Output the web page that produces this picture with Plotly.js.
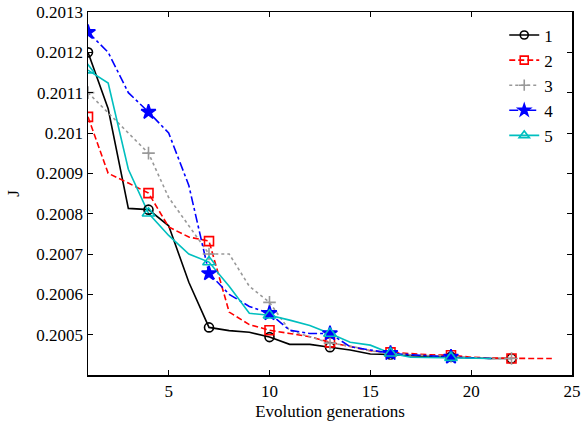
<!DOCTYPE html>
<html>
<head>
<meta charset="utf-8">
<script src="https://cdn.plot.ly/plotly-3.0.1.min.js"></script>
<style>html,body{margin:0;padding:0;background:#fff;}#chart{width:581px;height:421px;}</style>
</head>
<body>
<div id="chart"></div>
<script>
// Evolution generations
const gens = [1,2,3,4,5,6,7,8,9,10,11,12,13,14,15,16,17,18,19,20,21,22,23,24];
const markerGens = [1,4,7,10,13,16,19,22];

const seriesNames = ['1','2','3','4','5'];
const s1 = [0.20120,0.20106,0.200813,0.20081,0.20077,0.20063,0.200518,0.20051,0.200506,0.200494,0.200476,0.200476,0.200469,0.200462,0.200452,0.200451,0.200448,0.200446,0.200445,0.200442,0.200441,0.200441];
const s2 = [0.20104,0.20090,0.200876,0.200851,0.200767,0.200742,0.200732,0.200556,0.200525,0.200511,0.200503,0.200495,0.200481,0.20047,0.20046,0.200456,0.200453,0.20045,0.200449,0.200444,0.200442,0.200441,0.200441,0.200441];
const s3 = [0.20110,0.20105,0.20100,0.20095,0.20084,0.20077,0.20070,0.20070,0.20062,0.20058,0.20051,0.200495,0.200479,0.200472,0.20046,0.200454,0.20045,0.200448,0.200447,0.200443,0.200441,0.200441];
const s4 = [0.20125,0.20120,0.20110,0.201052,0.20100,0.20087,0.200652,0.20060,0.20057,0.200553,0.200511,0.200503,0.200503,0.20047,0.200462,0.200454,0.20045,0.200448,0.200445,0.200442,0.200441];
const s5 = [0.201156,0.201124,0.20091,0.200801,0.200746,0.20070,0.20068,0.20062,0.200553,0.200548,0.200536,0.200523,0.200503,0.200481,0.200474,0.200454,0.200444,0.200443,0.200443,0.200441,0.200441];

const yTickVals = [0.2005,0.2006,0.2007,0.2008,0.2009,0.2010,0.2011,0.2012,0.2013];
const yTickText = ['0.2005','0.2006','0.2007','0.2008','0.2009','0.201','0.2011','0.2012','0.2013'];
const xTickVals = [5,10,15,20,25];

const styles = [
  {color:'#000000', dash:'solid', symbol:'circle-open', size:9},
  {color:'#ff0000', dash:'6px,3px', symbol:'square-open', size:9},
  {color:'#999999', dash:'dot', symbol:'cross-thin-open', size:9},
  {color:'#0000ff', dash:'dashdot', symbol:'star', size:11},
  {color:'#00bfbf', dash:'solid', symbol:'triangle-up-open', size:11}
];
const allSeries = [s1,s2,s3,s4,s5];

const lineTraces = [], markerTraces = [], legendTraces = [];
allSeries.forEach((s, i) => {
  const st = styles[i];
  const xs = gens.slice(0, s.length);
  lineTraces.push({x: xs, y: s, mode:'lines', showlegend:false, hoverinfo:'skip',
    line:{color:st.color, dash:st.dash, width:1.6}});
  const mx = [], my = [];
  xs.forEach((g, k) => { if (markerGens.indexOf(g) >= 0) { mx.push(g); my.push(s[k]); } });
  markerTraces.push({x: mx, y: my, mode:'markers', showlegend:false,
    marker:{symbol:st.symbol, size:st.size, color:st.color, line:{color:st.color, width:1.6}}});
  legendTraces.push({x:[null], y:[null], mode:'lines+markers', name: seriesNames[i],
    line:{color:st.color, dash:st.dash, width:1.6},
    marker:{symbol:st.symbol, size:Math.min(st.size,10)-1, color:st.color, line:{color:st.color, width:1.6}}});
});

const FAM = 'Liberation Serif';
function mkFont(sz) { return {family: FAM, size: sz, color: '#000000'}; }

const layout = {
  width:581, height:421,
  margin:{l:88, r:9, t:12, b:46},
  paper_bgcolor:'#fff', plot_bgcolor:'#fff',
  font: mkFont(17),
  showlegend:true,
  legend:{x:0.86, y:0.985, xanchor:'left', yanchor:'top', bgcolor:'rgba(255,255,255,0)', font:mkFont(17), borderwidth:0},
  xaxis:{range:[1,25], tickvals:xTickVals, ticks:'inside', ticklen:5, tickwidth:1, tickcolor:'#000',
    showline:true, linecolor:'#000', linewidth:1.5, mirror:'ticks', showgrid:false, zeroline:false,
    tickfont:mkFont(17), title:{text:'Evolution generations', font:mkFont(17), standoff:5}},
  yaxis:{range:[0.2004,0.2013], tickvals:yTickVals, ticktext:yTickText, ticks:'inside', ticklen:5, tickwidth:1, tickcolor:'#000',
    showline:true, linecolor:'#000', linewidth:1.5, mirror:'ticks', showgrid:false, zeroline:false,
    tickfont:mkFont(17), title:{text:'J', font:mkFont(17), standoff:12}}
};

Plotly.newPlot('chart', lineTraces.concat(markerTraces, legendTraces), layout, {displayModeBar:false, staticPlot:true});
</script>
</body>
</html>
